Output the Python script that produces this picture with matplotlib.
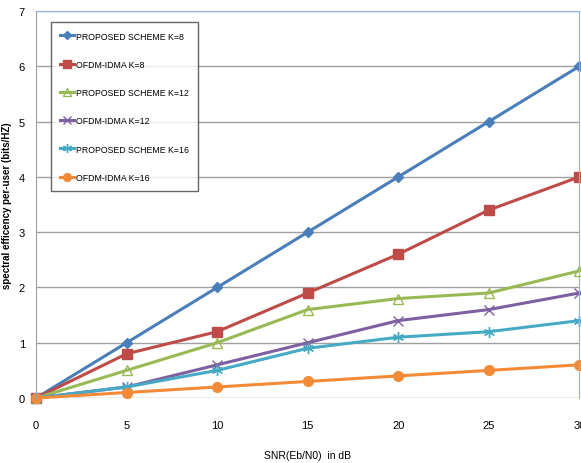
#!/usr/bin/env python3
"""Spectral efficiency per user vs SNR for the proposed scheme and OFDM-IDMA."""

import matplotlib

matplotlib.use("Agg")
import matplotlib.pyplot as plt

snr_db = [0, 5, 10, 15, 20, 25, 30]

proposed_k8 = [0, 1.0, 2.0, 3.0, 4.0, 5.0, 6.0]
ofdm_k8 = [0, 0.8, 1.2, 1.9, 2.6, 3.4, 4.0]
proposed_k12 = [0, 0.5, 1.0, 1.6, 1.8, 1.9, 2.3]
ofdm_k12 = [0, 0.2, 0.6, 1.0, 1.4, 1.6, 1.9]
proposed_k16 = [0, 0.2, 0.5, 0.9, 1.1, 1.2, 1.4]
ofdm_k16 = [0, 0.1, 0.2, 0.3, 0.4, 0.5, 0.6]

labels = [
    "PROPOSED SCHEME K=8",
    "OFDM-IDMA K=8",
    "PROPOSED SCHEME K=12",
    "OFDM-IDMA K=12",
    "PROPOSED SCHEME K=16",
    "OFDM-IDMA K=16",
]

plt.rcParams["font.family"] = ["Liberation Sans", "DejaVu Sans"]

fig = plt.figure(figsize=(5.81, 4.64), dpi=100)
ax = fig.add_axes([0.062, 0.140, 0.935, 0.834])

styles = [
    dict(color="#4A7EBB", marker="D", ms=5, mfc="#4A7EBB"),
    dict(color="#BE4B48", marker="s", ms=7, mfc="#BE4B48"),
    dict(color="#98B954", marker="^", ms=7, mfc="none"),
    dict(color="#7D60A0", marker="x", ms=7, mew=1.0),
    dict(color="#46AAC5", marker=(6, 2, 0), ms=8, mew=1.0),
    dict(color="#F38A37", marker="o", ms=7, mfc="#F38A37"),
]
series = [proposed_k8, ofdm_k8, proposed_k12, ofdm_k12, proposed_k16, ofdm_k16]

for vals, lab, st in zip(series, labels, styles):
    ax.plot(snr_db, vals, lw=2.2, label=lab, clip_on=False, **st)

ax.set_xlim(0, 30)
ax.set_ylim(0, 7)
ax.set_xticks(snr_db)
ax.set_yticks(range(8))
ax.yaxis.grid(True, color="#A0A0A0", lw=1.0)
ax.set_axisbelow(True)
ax.tick_params(length=0, labelsize=8)
ax.tick_params(axis="x", pad=16)
ax.tick_params(axis="y", pad=8)

ax.spines["left"].set_color("#A0A0A0")
ax.spines["bottom"].set_visible(False)
ax.spines["top"].set_color("#8EB4E3")
ax.spines["right"].set_color("#8EB4E3")

ax.set_xlabel("SNR(Eb/N0)  in dB", fontsize=7.5, labelpad=14)
ax.set_ylabel("spectral efficency per-user (bits/HZ)", fontsize=7,
              fontweight="bold", labelpad=5)

leg = ax.legend(loc="upper left", bbox_to_anchor=(0.027, 0.972), fontsize=6.3,
                frameon=True, fancybox=False, handlelength=1.6,
                labelspacing=2.2, borderpad=1.1, handletextpad=0.15,
                borderaxespad=0.0, markerscale=0.8)
leg.get_frame().set_edgecolor("#404040")
leg.get_frame().set_linewidth(1.0)

fig.savefig("out.png", dpi=100)
